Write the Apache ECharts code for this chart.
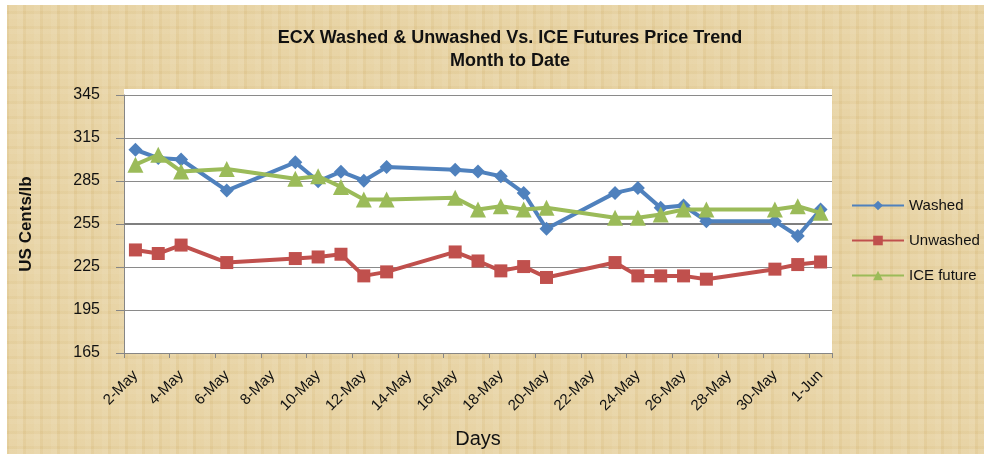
<!DOCTYPE html>
<html><head><meta charset="utf-8">
<script src="https://cdn.jsdelivr.net/npm/echarts@6/dist/echarts.min.js"></script>
<style>
html,body{margin:0;padding:0;background:#fff;}
#chart{width:984px;height:454px;
background-color:#E6D09D;
background-image:linear-gradient(#fff,#fff),linear-gradient(#fff,#fff),
 repeating-linear-gradient(90deg, rgba(255,255,255,0.10) 0 6px, rgba(180,140,70,0.06) 6px 9px, rgba(255,255,255,0.05) 9px 17px),
 repeating-linear-gradient(0deg, rgba(255,255,255,0.08) 0 5px, rgba(180,140,70,0.05) 5px 8px, rgba(255,255,255,0.04) 8px 15px);
background-size:984px 5px,7px 454px,auto,auto;
background-position:0 0,0 0,0 0,0 0;
background-repeat:no-repeat,no-repeat,repeat,repeat;}
</style></head>
<body><div id="chart"></div>
<script>
// Axis categories (every day on the date axis)
const axisDays = ["2-May","3-May","4-May","5-May","6-May","7-May","8-May","9-May","10-May","11-May","12-May","13-May","14-May","15-May","16-May","17-May","18-May","19-May","20-May","21-May","22-May","23-May","24-May","25-May","26-May","27-May","28-May","29-May","30-May","31-May","1-Jun"];
// Dates with observations
const dates = ["2-May","3-May","4-May","6-May","9-May","10-May","11-May","12-May","13-May","16-May","17-May","18-May","19-May","20-May","23-May","24-May","25-May","26-May","27-May","30-May","31-May","1-Jun"];
const washed   = [306.8,301.0,300.0,278.3,298.0,284.8,291.5,285.2,294.8,292.9,291.7,288.3,276.7,251.7,276.7,280.2,266.3,267.9,257.0,257.0,246.6,265.1];
const unwashed = [236.9,234.4,240.3,228.1,230.9,232.0,233.9,218.8,221.6,235.5,229.2,222.3,225.3,217.7,228.1,218.8,218.8,218.8,216.5,223.5,226.7,228.5];
const iceFuture= [296.4,303.3,291.7,293.4,286.5,288.3,280.9,272.1,272.1,273.3,265.1,267.4,265.1,266.3,259.4,259.4,261.7,265.1,265.1,265.1,267.4,262.8];
const yTicks = [165,195,225,255,285,315,345];

const pairs = arr => dates.map((d,i)=>[d,arr[i]]);
const font = '"Liberation Sans",sans-serif';
const chart = echarts.init(document.getElementById('chart'), null, {renderer:'canvas'});
chart.setOption({
  backgroundColor:'transparent',
  animation:false,
  graphic:[{type:'rect', z:-10, shape:{x:124,y:89,width:708,height:265}, style:{fill:'#ffffff'}}],
  title:{text:'ECX Washed & Unwashed Vs. ICE Futures Price Trend\nMonth to Date',
    left:505, textAlign:'center', top:22,
    textStyle:{fontFamily:font,fontWeight:'bold',fontSize:18,color:'#111',lineHeight:23}},
  legend:{orient:'vertical', left:846, top:193, itemGap:20, itemWidth:52, itemHeight:12,
    textStyle:{fontFamily:font,fontSize:15,color:'#111'},
    data:['Washed','Unwashed','ICE future']},
  grid:{left:124,right:152,top:95,bottom:100,containLabel:false},
  xAxis:{type:'category', data:axisDays, boundaryGap:true,
    name:'Days', nameLocation:'middle', nameGap:76,
    nameTextStyle:{fontFamily:font,fontSize:20,color:'#111'},
    axisLine:{lineStyle:{color:'#868686',width:1}},
    axisTick:{show:true,interval:1,length:5,lineStyle:{color:'#868686'}},
    axisLabel:{interval:1,rotate:45,margin:20,fontFamily:font,fontSize:15,color:'#111'},
    splitLine:{show:false}},
  yAxis:{type:'value', min:yTicks[0], max:yTicks[yTicks.length-1], interval:30,
    name:'US Cents/lb', nameLocation:'middle', nameGap:89, nameRotate:90,
    nameTextStyle:{fontFamily:font,fontSize:17,fontWeight:'bold',color:'#111'},
    axisLine:{show:true,lineStyle:{color:'#868686'}},
    axisTick:{show:true,length:8,lineStyle:{color:'#868686'}},
    axisLabel:{margin:24,fontFamily:font,fontSize:16,color:'#111'},
    splitLine:{show:true,lineStyle:{color:'#8a8a8a',width:1}}},
  series:[
    {name:'Washed',type:'line',data:pairs(washed),symbol:'diamond',symbolSize:14,showAllSymbol:true,
      lineStyle:{color:'#4F81BD',width:4},itemStyle:{color:'#4F81BD'},z:3,
      markLine:{silent:true,symbol:'none',label:{show:false},lineStyle:{color:'#7f7f7f',width:2,type:'solid'},data:[{yAxis:255}],z:1}},
    {name:'Unwashed',type:'line',data:pairs(unwashed),symbol:'rect',symbolSize:13,showAllSymbol:true,
      lineStyle:{color:'#C0504D',width:4},itemStyle:{color:'#C0504D'},z:2},
    {name:'ICE future',type:'line',data:pairs(iceFuture),symbol:'triangle',symbolSize:16,showAllSymbol:true,
      lineStyle:{color:'#9BBB59',width:4},itemStyle:{color:'#9BBB59'},z:4}
  ]
});
</script></body></html>
